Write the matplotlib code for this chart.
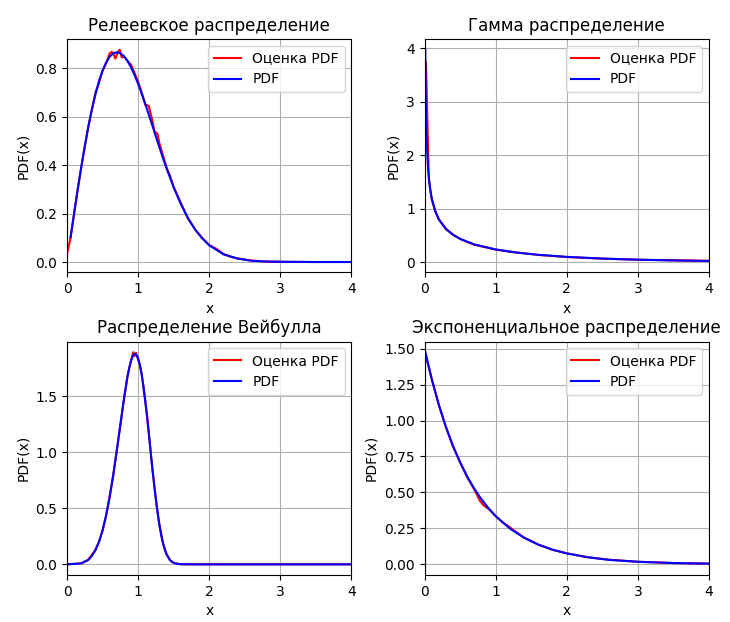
import matplotlib
matplotlib.use("Agg")
import matplotlib.pyplot as plt

# Rayleigh (sigma ~ 0.7)
ray_x = [0.05, 0.1, 0.15, 0.2, 0.25, 0.3, 0.35, 0.4, 0.45, 0.5, 0.55, 0.6, 0.65, 0.7, 0.75,
         0.8, 0.85, 0.9, 0.95, 1.0, 1.05, 1.1, 1.15, 1.2, 1.25, 1.3, 1.35, 1.4, 1.5, 1.6, 1.7,
         1.8, 1.9, 2.0, 2.2, 2.4, 2.6, 2.8, 3.0, 3.5, 4.0]
ray_pdf = [0.102, 0.202, 0.299, 0.392, 0.479, 0.559, 0.630, 0.693, 0.747, 0.791, 0.824, 0.848,
           0.862, 0.866, 0.862, 0.850, 0.831, 0.804, 0.772, 0.736, 0.696, 0.653, 0.609, 0.564,
           0.518, 0.473, 0.429, 0.387, 0.308, 0.240, 0.182, 0.135, 0.098, 0.069, 0.032, 0.014,
           0.005, 0.002, 0.001, 0.0, 0.0]
ray_est_x = [0.0, 0.05, 0.1, 0.15, 0.2, 0.3, 0.4, 0.45, 0.5, 0.55, 0.6, 0.63, 0.66, 0.68, 0.71,
             0.74, 0.77, 0.8, 0.85, 0.9, 0.95, 1.0, 1.05, 1.1, 1.15, 1.2, 1.23, 1.27, 1.3, 1.35,
             1.4, 1.45, 1.5, 1.6, 1.7, 1.8, 1.9, 2.0, 2.1, 2.2, 2.3, 2.4, 2.6, 2.8, 3.0, 3.5]
ray_est = [0.035, 0.10, 0.20, 0.30, 0.39, 0.56, 0.70, 0.74, 0.79, 0.82, 0.862, 0.868, 0.855,
           0.84, 0.865, 0.877, 0.845, 0.85, 0.83, 0.815, 0.78, 0.745, 0.70, 0.65, 0.645, 0.585,
           0.54, 0.53, 0.49, 0.44, 0.39, 0.355, 0.31, 0.245, 0.18, 0.135, 0.10, 0.07, 0.055,
           0.033, 0.022, 0.015, 0.006, 0.002, 0.001, 0.0]

# Gamma (shape 0.5, scale 2)
gam_x = [0.01, 0.02, 0.03, 0.05, 0.075, 0.1, 0.15, 0.2, 0.3, 0.4, 0.5, 0.7, 1.0, 1.3, 1.6,
         2.0, 2.5, 3.0, 3.5, 4.0]
gam_pdf = [3.97, 2.793, 2.269, 1.740, 1.403, 1.200, 0.956, 0.807, 0.627, 0.516, 0.439, 0.336,
           0.242, 0.183, 0.142, 0.104, 0.072, 0.051, 0.037, 0.027]
gam_est_x = [0.02, 0.06, 0.1, 0.15, 0.2, 0.3, 0.4, 0.5, 0.6, 0.7, 0.8, 0.9, 1.0, 1.2, 1.4,
             1.6, 1.8, 2.0, 2.5, 3.0, 3.5, 4.0]
gam_est = [3.73, 1.55, 1.18, 0.96, 0.80, 0.62, 0.52, 0.44, 0.38, 0.33, 0.30, 0.27, 0.24,
           0.20, 0.17, 0.14, 0.12, 0.10, 0.07, 0.05, 0.04, 0.03]

# Weibull (shape 5, scale 1)
wei_x = [0.0, 0.2, 0.3, 0.35, 0.4, 0.45, 0.5, 0.55, 0.6, 0.65, 0.7, 0.75, 0.8, 0.85, 0.875,
         0.9, 0.925, 0.95, 0.975, 1.0, 1.025, 1.05, 1.075, 1.1, 1.125, 1.15, 1.175, 1.2, 1.225,
         1.25, 1.275, 1.3, 1.325, 1.35, 1.375, 1.4, 1.45, 1.5, 1.55, 1.6, 1.8, 4.0]
wei_pdf = [0.0, 0.008, 0.040, 0.075, 0.127, 0.201, 0.303, 0.435, 0.600, 0.795, 1.015, 1.248,
           1.476, 1.675, 1.755, 1.818, 1.860, 1.879, 1.872, 1.839, 1.780, 1.696, 1.589, 1.463,
           1.321, 1.170, 1.015, 0.861, 0.714, 0.577, 0.455, 0.349, 0.260, 0.188, 0.131, 0.089,
           0.036, 0.013, 0.004, 0.001, 0.0, 0.0]
wei_est_x = [0.0, 0.2, 0.3, 0.4, 0.45, 0.5, 0.55, 0.6, 0.65, 0.7, 0.75, 0.8, 0.85, 0.9, 0.93,
             0.95, 0.97, 1.0, 1.025, 1.05, 1.075, 1.1, 1.125, 1.15, 1.175, 1.2, 1.25, 1.3,
             1.35, 1.4, 1.45, 1.5, 1.6, 1.8, 4.0]
wei_est = [0.0, 0.009, 0.042, 0.13, 0.205, 0.30, 0.44, 0.61, 0.80, 1.02, 1.24, 1.47, 1.68,
           1.82, 1.895, 1.86, 1.89, 1.83, 1.78, 1.70, 1.58, 1.46, 1.33, 1.18, 1.01, 0.85,
           0.58, 0.35, 0.19, 0.09, 0.035, 0.013, 0.001, 0.0, 0.0]

# Exponential (lambda 1.5)
exp_x = [0.0, 0.1, 0.2, 0.3, 0.4, 0.5, 0.6, 0.7, 0.8, 0.9, 1.0, 1.2, 1.4, 1.6, 1.8, 2.0,
         2.3, 2.6, 3.0, 3.5, 4.0]
exp_pdf = [1.5, 1.291, 1.111, 0.956, 0.823, 0.709, 0.610, 0.525, 0.452, 0.389, 0.335, 0.248,
           0.184, 0.136, 0.101, 0.075, 0.048, 0.030, 0.017, 0.008, 0.004]
exp_est_x = [0.0, 0.1, 0.2, 0.3, 0.4, 0.5, 0.6, 0.7, 0.78, 0.83, 0.9, 1.0, 1.1, 1.2, 1.3,
             1.4, 1.6, 1.8, 2.0, 2.3, 2.6, 3.0, 3.5, 4.0]
exp_est = [1.49, 1.29, 1.11, 0.955, 0.82, 0.71, 0.605, 0.52, 0.44, 0.41, 0.385, 0.335, 0.29,
           0.257, 0.22, 0.185, 0.137, 0.10, 0.076, 0.048, 0.031, 0.017, 0.008, 0.004]

panels = [
    ("Релеевское распределение", ray_est_x, ray_est, ray_x, ray_pdf, (-0.043, 0.921)),
    ("Гамма распределение", gam_est_x, gam_est, gam_x, gam_pdf, (-0.187, 4.17)),
    ("Распределение Вейбулла", wei_est_x, wei_est, wei_x, wei_pdf, (-0.095, 1.99)),
    ("Экспоненциальное распределение", exp_est_x, exp_est, exp_x, exp_pdf, (-0.075, 1.55)),
]

fig, axes = plt.subplots(2, 2, figsize=(7.3, 6.22), dpi=100)
fig.subplots_adjust(left=0.0918, right=0.9712, top=0.9373, bottom=0.0756,
                    wspace=0.257, hspace=0.296)

for ax, (title, ex, ey, px, py, ylim) in zip(axes.flat, panels):
    ax.plot(ex, ey, color="red", label="Оценка PDF")
    ax.plot(px, py, color="blue", label="PDF")
    ax.set_title(title)
    ax.set_xlabel("x")
    ax.set_ylabel("PDF(x)")
    ax.set_xlim(0, 4)
    ax.set_ylim(*ylim)
    ax.grid(True)
    ax.legend(loc="upper right")

fig.savefig("out.png")
